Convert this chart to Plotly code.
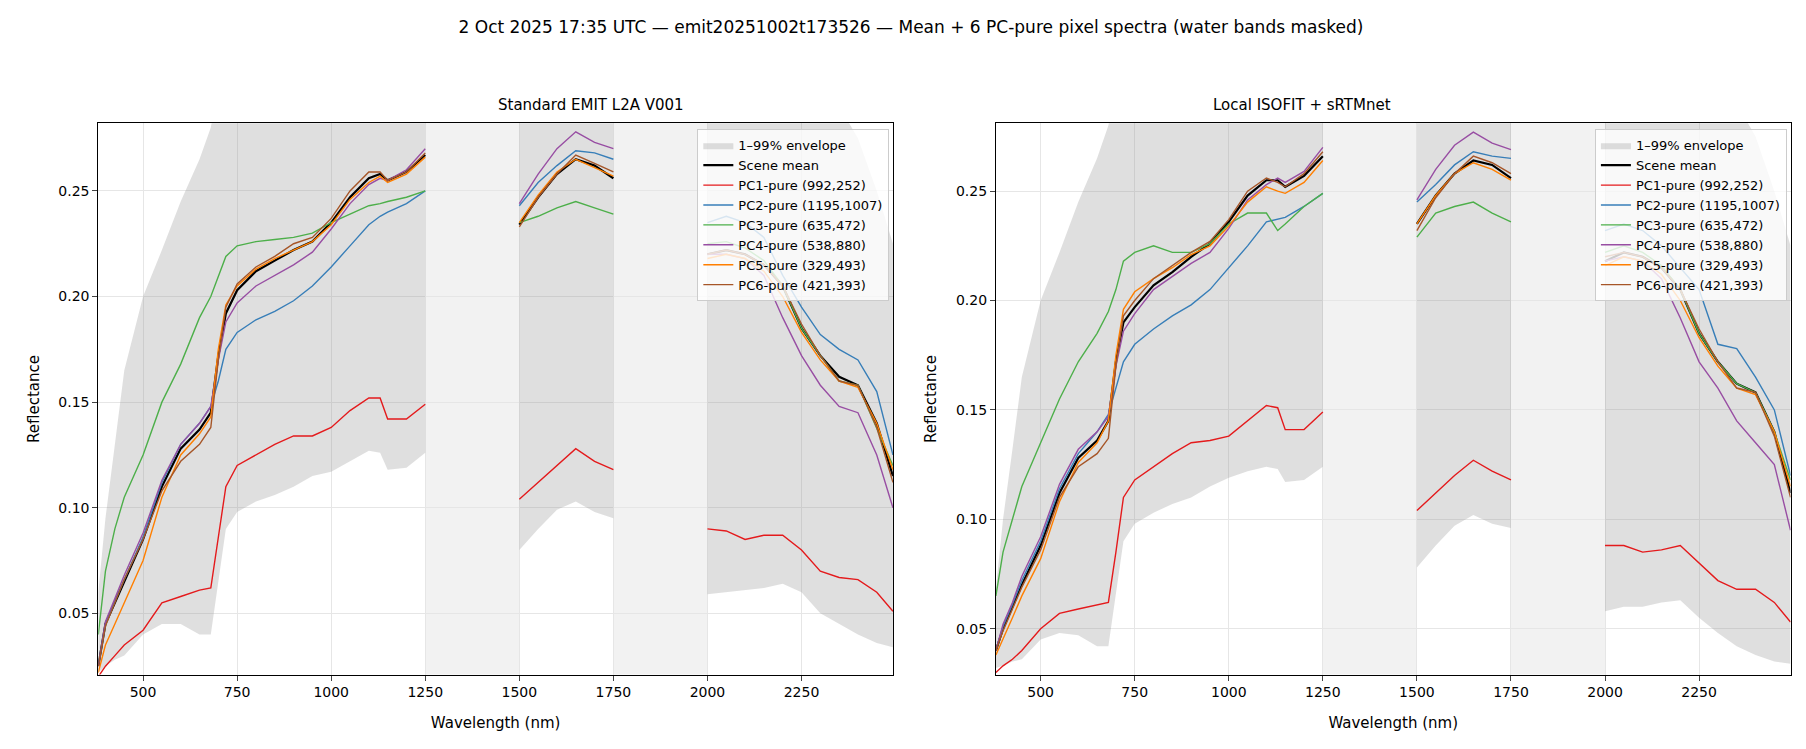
import plotly.graph_objects as go

# wavelength nodes (nm) for the three unmasked segments
WL1 = [381, 400, 425, 450, 500, 550, 600, 650, 680, 700, 720, 750, 800, 850, 900, 950, 1000, 1050, 1100, 1130, 1150, 1200, 1250]
WL2 = [1500, 1550, 1600, 1650, 1700, 1750]
WL3 = [2000, 2050, 2100, 2150, 2200, 2250, 2300, 2350, 2400, 2450, 2493]

NAMES = ["Scene mean", "PC1-pure (992,252)", "PC2-pure (1195,1007)", "PC3-pure (635,472)",
         "PC4-pure (538,880)", "PC5-pure (329,493)", "PC6-pure (421,393)"]
COLORS = ["#000000", "#e41a1c", "#377eb8", "#4daf4a", "#984ea3", "#ff7f00", "#a65628"]

# ---- Standard EMIT L2A V001 ----
std_mean = [[0.025, 0.045, 0.055, 0.065, 0.085, 0.110, 0.128, 0.137, 0.145, 0.172, 0.192, 0.203, 0.212, 0.217, 0.222, 0.226, 0.235, 0.247, 0.256, 0.258, 0.255, 0.259, 0.267],
            [0.234, 0.247, 0.258, 0.265, 0.262, 0.256],
            [0.220, 0.222, 0.220, 0.215, 0.205, 0.185, 0.172, 0.162, 0.158, 0.140, 0.115]]
std_pc1 = [[0.020, 0.025, 0.030, 0.035, 0.042, 0.055, 0.058, 0.061, 0.062, 0.085, 0.110, 0.120, 0.125, 0.130, 0.134, 0.134, 0.138, 0.146, 0.152, 0.152, 0.142, 0.142, 0.149],
           [0.104, 0.112, 0.120, 0.128, 0.122, 0.118],
           [0.090, 0.089, 0.085, 0.087, 0.087, 0.080, 0.070, 0.067, 0.066, 0.060, 0.051]]
std_pc2 = [[0.025, 0.045, 0.056, 0.066, 0.086, 0.112, 0.130, 0.140, 0.148, 0.160, 0.175, 0.183, 0.189, 0.193, 0.198, 0.205, 0.214, 0.224, 0.234, 0.238, 0.240, 0.244, 0.250],
           [0.243, 0.254, 0.262, 0.269, 0.268, 0.265],
           [0.235, 0.238, 0.235, 0.228, 0.210, 0.195, 0.182, 0.175, 0.170, 0.155, 0.125]]
std_pc3 = [[0.040, 0.070, 0.090, 0.105, 0.125, 0.150, 0.168, 0.190, 0.200, 0.210, 0.219, 0.224, 0.226, 0.227, 0.228, 0.230, 0.235, 0.239, 0.243, 0.244, 0.245, 0.247, 0.250],
           [0.235, 0.238, 0.242, 0.245, 0.242, 0.239],
           [0.225, 0.226, 0.223, 0.217, 0.205, 0.185, 0.172, 0.160, 0.158, 0.138, 0.120]]
std_pc4 = [[0.025, 0.046, 0.057, 0.068, 0.088, 0.113, 0.130, 0.140, 0.148, 0.170, 0.188, 0.197, 0.205, 0.210, 0.215, 0.221, 0.232, 0.244, 0.253, 0.256, 0.255, 0.260, 0.270],
           [0.244, 0.258, 0.270, 0.278, 0.273, 0.270],
           [0.220, 0.220, 0.218, 0.210, 0.190, 0.172, 0.158, 0.148, 0.145, 0.125, 0.100]]
std_pc5 = [[0.022, 0.035, 0.045, 0.055, 0.075, 0.105, 0.125, 0.135, 0.143, 0.175, 0.196, 0.205, 0.213, 0.218, 0.222, 0.226, 0.234, 0.246, 0.254, 0.257, 0.254, 0.258, 0.266],
           [0.235, 0.248, 0.259, 0.265, 0.261, 0.257],
           [0.218, 0.220, 0.218, 0.212, 0.200, 0.183, 0.170, 0.160, 0.157, 0.140, 0.118]]
std_pc6 = [[0.025, 0.044, 0.055, 0.066, 0.085, 0.108, 0.122, 0.130, 0.138, 0.170, 0.195, 0.206, 0.214, 0.219, 0.225, 0.228, 0.237, 0.250, 0.259, 0.259, 0.255, 0.259, 0.268],
           [0.233, 0.247, 0.258, 0.267, 0.263, 0.259],
           [0.220, 0.222, 0.220, 0.215, 0.205, 0.187, 0.172, 0.160, 0.158, 0.138, 0.112]]
std_lo = [[0.022, 0.025, 0.028, 0.030, 0.040, 0.045, 0.045, 0.040, 0.040, 0.065, 0.090, 0.098, 0.103, 0.106, 0.110, 0.115, 0.117, 0.122, 0.127, 0.126, 0.118, 0.119, 0.126],
          [0.080, 0.090, 0.099, 0.103, 0.098, 0.095],
          [0.059, 0.060, 0.061, 0.062, 0.064, 0.060, 0.050, 0.045, 0.040, 0.036, 0.034]]
std_hi = [[0.060, 0.095, 0.130, 0.165, 0.200, 0.222, 0.245, 0.265, 0.280, 0.300, 0.300, 0.300, 0.300, 0.300, 0.300, 0.300, 0.300, 0.300, 0.300, 0.300, 0.300, 0.300, 0.300],
          [0.300, 0.300, 0.300, 0.300, 0.300, 0.300],
          [0.300, 0.300, 0.300, 0.300, 0.300, 0.300, 0.300, 0.290, 0.275, 0.250, 0.225]]

# ---- Local ISOFIT + sRTMnet ----
loc_mean = [[0.040, 0.050, 0.060, 0.070, 0.088, 0.112, 0.128, 0.136, 0.145, 0.172, 0.190, 0.197, 0.207, 0.213, 0.220, 0.226, 0.236, 0.248, 0.255, 0.255, 0.252, 0.257, 0.266],
            [0.235, 0.248, 0.258, 0.264, 0.262, 0.256],
            [0.218, 0.222, 0.220, 0.215, 0.205, 0.185, 0.172, 0.162, 0.158, 0.140, 0.112]]
loc_pc1 = [[0.030, 0.033, 0.036, 0.040, 0.050, 0.057, 0.059, 0.061, 0.062, 0.085, 0.110, 0.118, 0.124, 0.130, 0.135, 0.136, 0.138, 0.145, 0.152, 0.151, 0.141, 0.141, 0.149],
           [0.104, 0.112, 0.120, 0.127, 0.122, 0.118],
           [0.088, 0.088, 0.085, 0.086, 0.088, 0.080, 0.072, 0.068, 0.068, 0.062, 0.053]]
loc_pc2 = [[0.040, 0.051, 0.061, 0.072, 0.090, 0.114, 0.130, 0.140, 0.148, 0.160, 0.172, 0.180, 0.187, 0.193, 0.198, 0.205, 0.215, 0.225, 0.236, 0.237, 0.238, 0.243, 0.249],
           [0.245, 0.253, 0.262, 0.268, 0.266, 0.265],
           [0.232, 0.235, 0.232, 0.225, 0.215, 0.205, 0.180, 0.178, 0.165, 0.150, 0.120]]
loc_pc3 = [[0.065, 0.085, 0.100, 0.115, 0.135, 0.155, 0.172, 0.185, 0.195, 0.205, 0.218, 0.222, 0.225, 0.222, 0.222, 0.226, 0.235, 0.240, 0.240, 0.232, 0.235, 0.243, 0.249],
           [0.229, 0.240, 0.243, 0.245, 0.240, 0.236],
           [0.222, 0.225, 0.222, 0.216, 0.205, 0.185, 0.172, 0.162, 0.158, 0.140, 0.118]]
loc_pc4 = [[0.040, 0.052, 0.062, 0.074, 0.092, 0.116, 0.132, 0.140, 0.147, 0.170, 0.186, 0.194, 0.205, 0.211, 0.217, 0.222, 0.233, 0.246, 0.253, 0.256, 0.254, 0.259, 0.270],
           [0.246, 0.260, 0.271, 0.277, 0.272, 0.269],
           [0.218, 0.220, 0.218, 0.210, 0.192, 0.172, 0.160, 0.145, 0.135, 0.125, 0.095]]
loc_pc5 = [[0.038, 0.045, 0.055, 0.065, 0.082, 0.108, 0.126, 0.135, 0.145, 0.175, 0.196, 0.204, 0.210, 0.215, 0.221, 0.225, 0.234, 0.245, 0.252, 0.250, 0.249, 0.254, 0.264],
           [0.235, 0.248, 0.258, 0.263, 0.260, 0.255],
           [0.216, 0.220, 0.218, 0.212, 0.200, 0.183, 0.170, 0.160, 0.157, 0.140, 0.115]]
loc_pc6 = [[0.040, 0.049, 0.059, 0.069, 0.086, 0.110, 0.124, 0.130, 0.137, 0.170, 0.193, 0.200, 0.210, 0.216, 0.222, 0.227, 0.237, 0.250, 0.256, 0.254, 0.252, 0.258, 0.268],
           [0.232, 0.247, 0.258, 0.266, 0.263, 0.258],
           [0.220, 0.222, 0.220, 0.215, 0.205, 0.187, 0.172, 0.160, 0.158, 0.138, 0.110]]
loc_lo = [[0.032, 0.033, 0.035, 0.036, 0.045, 0.048, 0.047, 0.042, 0.042, 0.065, 0.090, 0.098, 0.103, 0.107, 0.110, 0.115, 0.119, 0.122, 0.124, 0.123, 0.117, 0.118, 0.124],
          [0.078, 0.088, 0.097, 0.102, 0.098, 0.096],
          [0.058, 0.060, 0.060, 0.062, 0.063, 0.055, 0.048, 0.042, 0.038, 0.035, 0.034]]
loc_hi = [[0.068, 0.100, 0.132, 0.165, 0.200, 0.222, 0.245, 0.265, 0.280, 0.300, 0.300, 0.300, 0.300, 0.300, 0.300, 0.300, 0.300, 0.300, 0.300, 0.300, 0.300, 0.300, 0.300],
          [0.300, 0.300, 0.300, 0.300, 0.300, 0.300],
          [0.300, 0.300, 0.300, 0.300, 0.300, 0.300, 0.300, 0.290, 0.275, 0.250, 0.225]]

SEGS = [WL1, WL2, WL3]
WATER = [(1250, 1500), (1750, 2000)]
YDOM = [0.110, 0.846]


def join(segs):
    xs, ys = [], []
    for wl, vals in zip(SEGS, segs):
        xs += wl + [None]
        ys += vals + [None]
    return xs[:-1], ys[:-1]


fig = go.Figure()


def panel(n, series, lo, hi, legend):
    xa = "x" if n == 1 else "x2"
    ya = "y" if n == 1 else "y2"
    for i, wl in enumerate(SEGS):
        fig.add_trace(go.Scatter(x=wl, y=hi[i], mode="lines", line=dict(width=0), xaxis=xa, yaxis=ya,
                                 showlegend=False, hoverinfo="skip"))
        fig.add_trace(go.Scatter(x=wl, y=lo[i], mode="lines", line=dict(width=0), fill="tonexty",
                                 fillcolor="rgba(150,150,150,0.3)", xaxis=xa, yaxis=ya,
                                 name="1–99% envelope", legendgroup="env" + str(n),
                                 showlegend=(i == 0), legend=legend))
    for k, s in enumerate(series):
        xs, ys = join(s)
        fig.add_trace(go.Scatter(x=xs, y=ys, mode="lines", connectgaps=False, xaxis=xa, yaxis=ya,
                                 line=dict(color=COLORS[k], width=2.2 if k == 0 else 1.4),
                                 name=NAMES[k], legend=legend))


panel(1, [std_mean, std_pc1, std_pc2, std_pc3, std_pc4, std_pc5, std_pc6], std_lo, std_hi, "legend")
panel(2, [loc_mean, loc_pc1, loc_pc2, loc_pc3, loc_pc4, loc_pc5, loc_pc6], loc_lo, loc_hi, "legend2")

for xr in ["x", "x2"]:
    for a, b in WATER:
        fig.add_shape(type="rect", xref=xr, yref="paper", x0=a, x1=b, y0=YDOM[0], y1=YDOM[1],
                      fillcolor="#f2f2f2", line_width=0, layer="below")

axis_common = dict(showline=True, linecolor="black", linewidth=1, mirror=True, ticks="outside",
                   ticklen=5, gridcolor="#e6e6e6", zeroline=False, tickfont=dict(size=14))
xticks = [500, 750, 1000, 1250, 1500, 1750, 2000, 2250]
yticks = [0.05, 0.10, 0.15, 0.20, 0.25]
fig.update_layout(
    width=1806, height=749, template="plotly_white",
    margin=dict(l=0, r=0, t=0, b=0),
    font=dict(family="DejaVu Sans", color="black"),
    plot_bgcolor="rgba(0,0,0,0)",
    xaxis=dict(domain=[0.050, 0.490], range=[381, 2493], tickvals=xticks,
               title=dict(text="Wavelength (nm)", font=dict(size=15), standoff=18), anchor="y", **axis_common),
    yaxis=dict(domain=YDOM, range=[0.021, 0.282], tickvals=yticks,
               tickformat=".2f", title=dict(text="Reflectance", font=dict(size=15)), anchor="x", **axis_common),
    xaxis2=dict(domain=[0.547, 0.987], range=[381, 2493], tickvals=xticks,
                title=dict(text="Wavelength (nm)", font=dict(size=15), standoff=18), anchor="y2", **axis_common),
    yaxis2=dict(domain=YDOM, range=[0.029, 0.281], tickvals=yticks,
                tickformat=".2f", title=dict(text="Reflectance", font=dict(size=15)), anchor="x2", **axis_common),
    title=dict(text="2 Oct 2025 17:35 UTC — emit20251002t173526 — Mean + 6 PC-pure pixel spectra (water bands masked)",
               x=0.5, y=0.975, xanchor="center", yanchor="middle", font=dict(size=17)),
    legend=dict(x=0.488, y=0.838, xanchor="right", yanchor="top", bgcolor="rgba(255,255,255,0.8)",
                bordercolor="#cccccc", borderwidth=1, font=dict(size=13), tracegroupgap=0),
    legend2=dict(x=0.985, y=0.838, xanchor="right", yanchor="top", bgcolor="rgba(255,255,255,0.8)",
                 bordercolor="#cccccc", borderwidth=1, font=dict(size=13), tracegroupgap=0),
    annotations=[
        dict(text="Standard EMIT L2A V001", x=0.270, y=0.856, xref="paper", yref="paper",
             showarrow=False, yanchor="bottom", font=dict(size=15)),
        dict(text="Local ISOFIT + sRTMnet", x=0.767, y=0.856, xref="paper", yref="paper",
             showarrow=False, yanchor="bottom", font=dict(size=15)),
    ],
)

fig.write_html("out.html")
